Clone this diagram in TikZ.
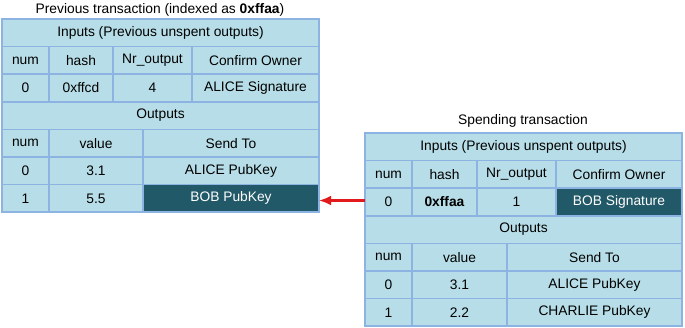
\documentclass[tikz,border=0pt]{standalone}
\usepackage{fontspec}
\setmainfont{Liberation Sans}
\usetikzlibrary{arrows.meta}

\definecolor{cellfill}{HTML}{B7DEE8}
\definecolor{cellline}{HTML}{8DB3E2}
\definecolor{keyfill}{HTML}{215968}
\definecolor{linkred}{HTML}{E31A1C}

\tikzset{
  cell/.style={draw=cellline, fill=cellfill, line width=1.6pt, anchor=north west,
    inner sep=0pt, outer sep=0pt, minimum height=27.6pt,
    font=\fontsize{13.8}{16}\selectfont},
  keycell/.style={cell, fill=keyfill, text=white},
  tabtitle/.style={font=\fontsize{13.8}{16}\selectfont},
}

\begin{document}
\begin{tikzpicture}[x=1pt,y=-1pt,>={Latex[length=12pt,width=10pt]}]
    \useasboundingbox (0,0) rectangle (685,328);
    % previous transaction
    \node[tabtitle] (ptitle) at (160,10) {Previous transaction (indexed as \textbf{0xffaa})};
    \node[cell,minimum width=317pt] (pin) at (2,19) {Inputs (Previous unspent outputs)};
    \node[cell,minimum width=47pt] (pinnum) at (2,46.6) {num};
    \node[cell,minimum width=64pt] (pinhash) at (49,46.6) {hash};
    \node[cell,minimum width=79pt] (pinnr) at (113,46.6) {Nr\_output};
    \node[cell,minimum width=127pt] (pinown) at (192,46.6) {Confirm Owner};
    \node[cell,minimum width=47pt] (pinnum0) at (2,74.2) {0};
    \node[cell,minimum width=64pt] (pinhash0) at (49,74.2) {0xffcd};
    \node[cell,minimum width=79pt] (pinnr0) at (113,74.2) {4};
    \node[cell,minimum width=127pt] (pinown0) at (192,74.2) {ALICE Signature};
    \node[cell,minimum width=317pt] (pout) at (2,101.8) {Outputs};
    \node[cell,minimum width=47pt] (poutnum) at (2,129.4) {num};
    \node[cell,minimum width=94pt] (poutval) at (49,129.4) {value};
    \node[cell,minimum width=176pt] (poutto) at (143,129.4) {Send To};
    \node[cell,minimum width=47pt] (poutnum0) at (2,157) {0};
    \node[cell,minimum width=94pt] (poutval0) at (49,157) {3.1};
    \node[cell,minimum width=176pt] (poutto0) at (143,157) {ALICE PubKey};
    \node[cell,minimum width=47pt] (poutnum1) at (2,184.6) {1};
    \node[cell,minimum width=94pt] (poutval1) at (49,184.6) {5.5};
    \node[keycell,minimum width=176pt] (pbob) at (143,184.6) {BOB PubKey};
    % spending transaction
    \node[tabtitle] (stitle) at (523,121) {Spending transaction};
    \node[cell,minimum width=317pt] (sin) at (365,133) {Inputs (Previous unspent outputs)};
    \node[cell,minimum width=47pt] (sinnum) at (365,160.6) {num};
    \node[cell,minimum width=65pt] (sinhash) at (412,160.6) {hash};
    \node[cell,minimum width=79pt] (sinnr) at (477,160.6) {Nr\_output};
    \node[cell,minimum width=126pt] (sinown) at (556,160.6) {Confirm Owner};
    \node[cell,minimum width=47pt] (sinnum0) at (365,188.2) {0};
    \node[cell,minimum width=65pt] (sinhash0) at (412,188.2) {\textbf{0xffaa}};
    \node[cell,minimum width=79pt] (sinnr0) at (477,188.2) {1};
    \node[keycell,minimum width=126pt] (sbob) at (556,188.2) {BOB Signature};
    \node[cell,minimum width=317pt] (sout) at (365,215.8) {Outputs};
    \node[cell,minimum width=47pt] (soutnum) at (365,243.4) {num};
    \node[cell,minimum width=95pt] (soutval) at (412,243.4) {value};
    \node[cell,minimum width=175pt] (soutto) at (507,243.4) {Send To};
    \node[cell,minimum width=47pt] (soutnum0) at (365,271) {0};
    \node[cell,minimum width=95pt] (soutval0) at (412,271) {3.1};
    \node[cell,minimum width=175pt] (soutto0) at (507,271) {ALICE PubKey};
    \node[cell,minimum width=47pt] (soutnum1) at (365,298.6) {1};
    \node[cell,minimum width=95pt] (soutval1) at (412,298.6) {2.2};
    \node[cell,minimum width=175pt] (soutto1) at (507,298.6) {CHARLIE PubKey};
    % link from the spent input to the output it uses
    \draw[->,linkred,line width=2.8pt] ([yshift=1.5pt]sinnum0.west) -- ([yshift=1.5pt]sinnum0.west -| pbob.east);
  \end{tikzpicture}
\end{document}
